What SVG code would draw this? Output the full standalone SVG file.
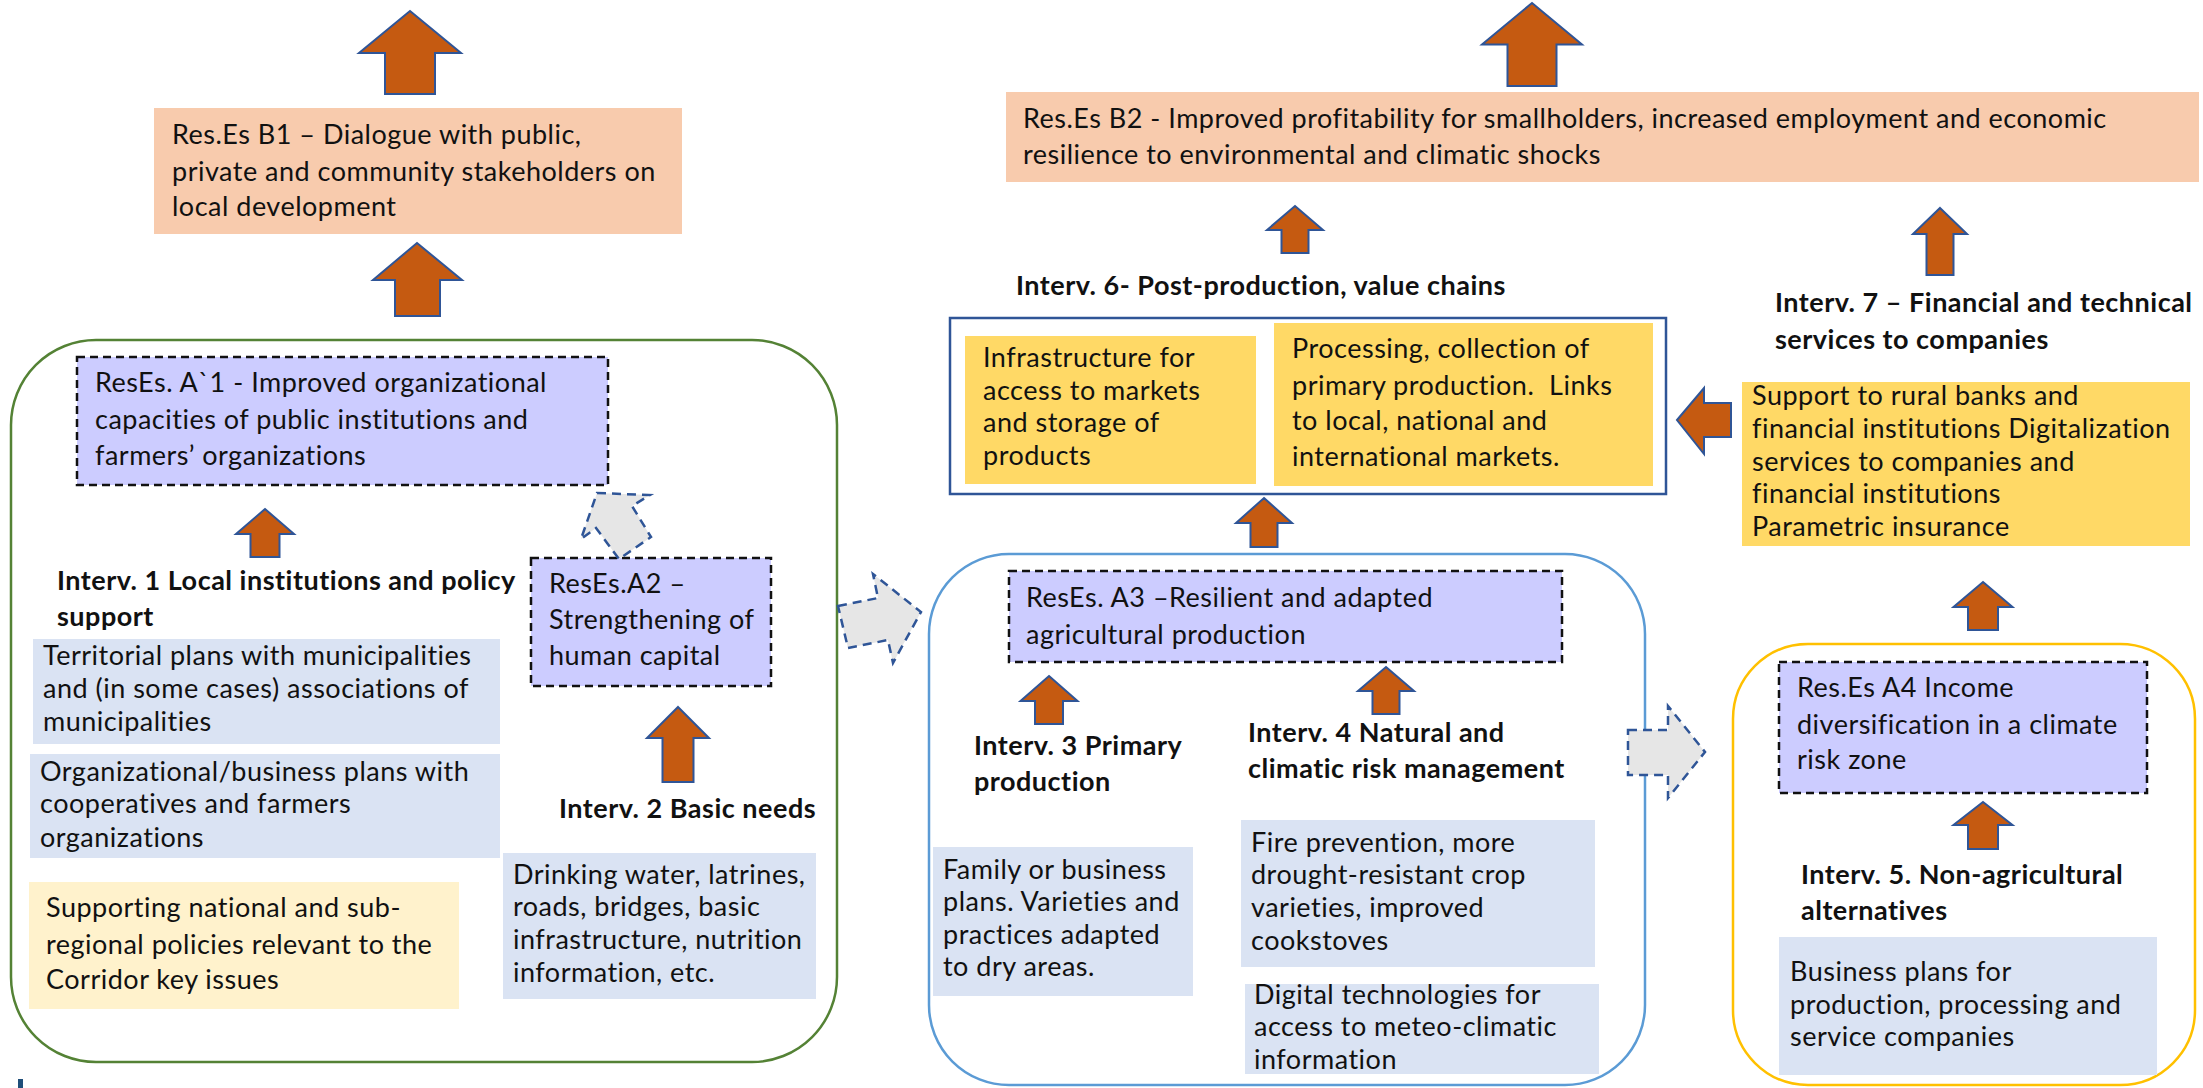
<svg xmlns="http://www.w3.org/2000/svg" width="2203" height="1088" viewBox="0 0 2203 1088">
<style>
text{font-family:Lato,"Liberation Sans",sans-serif;font-size:27px;letter-spacing:0.5px;fill:#111}
.b{font-weight:bold}
.res{fill:#F8CBAD}
.lav{fill:#CCCCFF;stroke:#111;stroke-width:2.5;stroke-dasharray:8 5}
.blu{fill:#DAE3F3}
.yel{fill:#FFD966}
.lyel{fill:#FFF2CC}
.arr{fill:#C55A11;stroke:#2F5597;stroke-width:2;stroke-linejoin:miter}
.garr{fill:#E6E6E6;stroke:#2F5597;stroke-width:2.5;stroke-dasharray:9 6}
.cont{fill:none;stroke-width:2.5}
</style>
<rect width="2203" height="1088" fill="#fff"/>

<g id="containers">
<rect id="green-container" x="11" y="340" width="826" height="722" rx="85" class="cont" stroke="#548235"/>
<rect id="blue-container" x="929" y="554" width="716" height="531" rx="80" class="cont" stroke="#5B9BD5"/>
<rect id="yellow-container" x="1733" y="644" width="462" height="441" rx="75" class="cont" stroke="#FFC000"/>
<rect id="interv6-container" x="950" y="318" width="716" height="176" fill="#fff" stroke="#2F5597" stroke-width="2.5"/>
</g>

<g id="B1">
<rect x="154" y="108" width="528" height="126" class="res"/>
<text x="172" y="144">Res.Es B1 – Dialogue with public,</text>
<text x="172" y="181">private and community stakeholders on</text>
<text x="172" y="216">local development</text>
</g>

<g id="A1">
<rect x="77" y="357" width="531" height="128" class="lav"/>
<text x="95" y="392">ResEs. A`1 - Improved organizational</text>
<text x="95" y="429">capacities of public institutions and</text>
<text x="95" y="465">farmers’ organizations</text>
</g>

<g id="interv1">
<text class="b" x="57" y="590">Interv. 1 Local institutions and policy</text>
<text class="b" x="57" y="626">support</text>
</g>

<g id="territorial">
<rect x="33" y="639" width="467" height="105" class="blu"/>
<text x="43" y="665">Territorial plans with municipalities</text>
<text x="43" y="698">and (in some cases) associations of</text>
<text x="43" y="731">municipalities</text>
</g>

<g id="organizational">
<rect x="30" y="754" width="470" height="104" class="blu"/>
<text x="40" y="781">Organizational/business plans with</text>
<text x="40" y="813">cooperatives and farmers</text>
<text x="40" y="847">organizations</text>
</g>

<g id="supporting">
<rect x="29" y="882" width="430" height="127" class="lyel"/>
<text x="46" y="917">Supporting national and sub-</text>
<text x="46" y="954">regional policies relevant to the</text>
<text x="46" y="989">Corridor key issues</text>
</g>

<g id="A2">
<rect x="531" y="558" width="240" height="128" class="lav"/>
<text x="549" y="593">ResEs.A2 –</text>
<text x="549" y="629">Strengthening of</text>
<text x="549" y="665">human capital</text>
</g>

<g id="interv2">
<text class="b" x="559" y="818">Interv. 2 Basic needs</text>
</g>

<g id="drinking">
<rect x="503" y="853" width="313" height="146" class="blu"/>
<text x="513" y="884">Drinking water, latrines,</text>
<text x="513" y="916">roads, bridges, basic</text>
<text x="513" y="949">infrastructure, nutrition</text>
<text x="513" y="982">information, etc.</text>
</g>

<g id="B2">
<rect x="1006" y="92" width="1193" height="90" class="res"/>
<text x="1023" y="128">Res.Es B2 - Improved profitability for smallholders, increased employment and economic</text>
<text x="1023" y="164">resilience to environmental and climatic shocks</text>
</g>

<g id="interv6">
<text class="b" x="1016" y="295">Interv. 6- Post-production, value chains</text>
</g>

<g id="infrastructure">
<rect x="965" y="336" width="291" height="148" class="yel"/>
<text x="983" y="367">Infrastructure for</text>
<text x="983" y="400">access to markets</text>
<text x="983" y="432">and storage of</text>
<text x="983" y="465">products</text>
</g>

<g id="processing">
<rect x="1274" y="323" width="379" height="163" class="yel"/>
<text x="1292" y="358">Processing, collection of</text>
<text x="1292" y="395" xml:space="preserve">primary production.  Links</text>
<text x="1292" y="430">to local, national and</text>
<text x="1292" y="466">international markets.</text>
</g>

<g id="A3">
<rect x="1009" y="571" width="553" height="91" class="lav"/>
<text x="1026" y="607">ResEs. A3 –Resilient and adapted</text>
<text x="1026" y="644">agricultural production</text>
</g>

<g id="interv3">
<text class="b" x="974" y="755">Interv. 3 Primary</text>
<text class="b" x="974" y="791">production</text>
</g>

<g id="interv4">
<text class="b" x="1248" y="742">Interv. 4 Natural and</text>
<text class="b" x="1248" y="778">climatic risk management</text>
</g>

<g id="family">
<rect x="933" y="847" width="260" height="149" class="blu"/>
<text x="943" y="879">Family or business</text>
<text x="943" y="911">plans. Varieties and</text>
<text x="943" y="944">practices adapted</text>
<text x="943" y="976">to dry areas.</text>
</g>

<g id="fire">
<rect x="1241" y="820" width="354" height="147" class="blu"/>
<text x="1251" y="852">Fire prevention, more</text>
<text x="1251" y="884">drought-resistant crop</text>
<text x="1251" y="917">varieties, improved</text>
<text x="1251" y="950">cookstoves</text>
</g>

<g id="digital">
<rect x="1245" y="984" width="354" height="90" class="blu"/>
<text x="1254" y="1004">Digital technologies for</text>
<text x="1254" y="1036">access to meteo-climatic</text>
<text x="1254" y="1069">information</text>
</g>

<g id="interv7">
<text class="b" x="1775" y="312">Interv. 7 – Financial and technical</text>
<text class="b" x="1775" y="349">services to companies</text>
</g>

<g id="support">
<rect x="1742" y="382" width="448" height="164" class="yel"/>
<text x="1752" y="405">Support to rural banks and</text>
<text x="1752" y="438">financial institutions Digitalization</text>
<text x="1752" y="471">services to companies and</text>
<text x="1752" y="503">financial institutions</text>
<text x="1752" y="536">Parametric insurance</text>
</g>

<g id="A4">
<rect x="1779" y="662" width="368" height="131" class="lav"/>
<text x="1797" y="697">Res.Es A4 Income</text>
<text x="1797" y="734">diversification in a climate</text>
<text x="1797" y="769">risk zone</text>
</g>

<g id="interv5">
<text class="b" x="1801" y="884">Interv. 5. Non-agricultural</text>
<text class="b" x="1801" y="920">alternatives</text>
</g>

<g id="business">
<rect x="1779" y="937" width="378" height="138" class="blu"/>
<text x="1790" y="981">Business plans for</text>
<text x="1790" y="1014">production, processing and</text>
<text x="1790" y="1046">service companies</text>
</g>

<g id="mark">
<rect x="18" y="1079" width="5" height="9" fill="#1F4E79"/>
</g>

<g id="connectors">
<path class="arr" d="M410,11 L461,53 L435,53 L435,94 L385,94 L385,53 L359,53 Z"/>
<path class="arr" d="M417,243 L462,280 L440,280 L440,316 L395,316 L395,280 L373,280 Z"/>
<path class="arr" d="M265,509 L294,534 L279.5,534 L279.5,557 L250.5,557 L250.5,534 L236,534 Z"/>
<path class="arr" d="M678,707 L709,738 L693.5,738 L693.5,782 L662.5,782 L662.5,738 L647,738 Z"/>
<path class="arr" d="M1532,3 L1582,44.5 L1556.5,44.5 L1556.5,86 L1507.5,86 L1507.5,44.5 L1482,44.5 Z"/>
<path class="arr" d="M1295,206 L1323,230 L1308.5,230 L1308.5,253 L1281.5,253 L1281.5,230 L1267,230 Z"/>
<path class="arr" d="M1264,498 L1292,523 L1277.5,523 L1277.5,547 L1250.5,547 L1250.5,523 L1236,523 Z"/>
<path class="arr" d="M1049,676 L1077.5,701 L1063,701 L1063,724 L1035,724 L1035,701 L1020.5,701 Z"/>
<path class="arr" d="M1386,667 L1414,691 L1399.5,691 L1399.5,714 L1372.5,714 L1372.5,691 L1358,691 Z"/>
<path class="arr" d="M1940,208 L1967,234 L1953.5,234 L1953.5,275 L1926.5,275 L1926.5,234 L1913,234 Z"/>
<path class="arr" d="M1677,420 L1704,388 L1704,403 L1731,403 L1731,437 L1704,437 L1704,454 Z"/>
<path class="arr" d="M1983,582 L2012.5,607 L1998,607 L1998,630 L1968,630 L1968,607 L1953.5,607 Z"/>
<path class="arr" d="M1983,802 L2012.5,825 L1998,825 L1998,849 L1968,849 L1968,825 L1953.5,825 Z"/>
<path class="garr" d="M597,493 L650,495 L632,506 L651,537 L619,559 L596,528 L581,539 Z"/>
<path class="garr" d="M838,606 L878,598 L873,574 L921,612 L893,663 L888,640 L848,648 Z"/>
<path class="garr" d="M1628,730 L1668,730 L1668,706 L1705,752 L1668,798 L1668,775 L1628,775 Z"/>
</g>
</svg>
